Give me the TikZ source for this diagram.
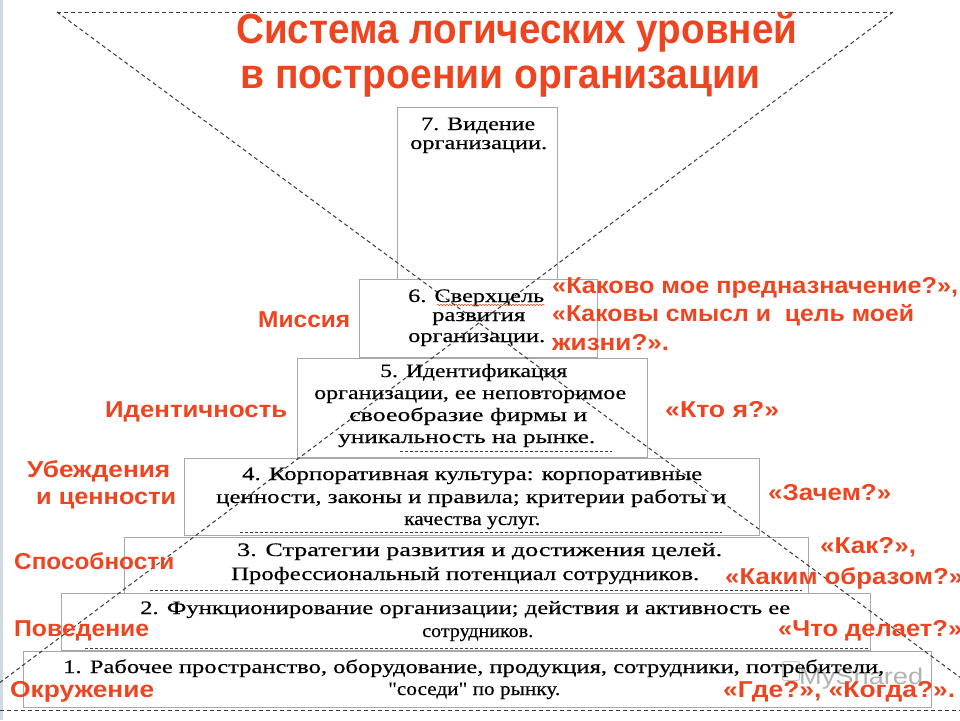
\documentclass[tikz,border=0pt]{standalone}
\usepackage{fontspec}
\usepackage{graphicx}
\setmainfont{Liberation Serif}[Ligatures=TeXOff, FakeBold=0.35]
\newfontfamily\redfont{Liberation Sans}
\usetikzlibrary{decorations.pathmorphing}
\definecolor{redc}{HTML}{EE4420}
\definecolor{boxgray}{HTML}{A8A8A8}
\definecolor{dashc}{HTML}{3A3A3A}
\definecolor{stripc}{HTML}{CFD9E0}
\newcommand\fitw[2]{\resizebox{#1pt}{\height}{#2}}
\newcommand\bline[5]{\node[btxt] (#1) at (#2,#3) {\fitw{#4}{#5}};}
\newcommand\rline[5]{\node[rtxt] (#1) at (#2,#3) {\fitw{#4}{#5}};}
\tikzset{
  lvlbox/.style={draw=boxgray, line width=1pt, fill=white, inner sep=0pt, anchor=north west},
  btxt/.style={anchor=base west, inner sep=0pt, font=\fontsize{19}{22}\selectfont},
  rtxt/.style={anchor=base west, inner sep=0pt, text=redc, font=\redfont\bfseries\fontsize{23}{26}\selectfont},
  ttxt/.style={anchor=base west, inner sep=0pt, text=redc, font=\redfont\bfseries\fontsize{42}{48}\selectfont},
  xline/.style={draw=dashc, line width=1pt, dash pattern=on 4pt off 3pt},
  bdash/.style={draw=dashc, line width=0.9pt, dash pattern=on 3pt off 2pt},
}
\begin{document}
\begin{tikzpicture}[x=1pt,y=-1pt]
\useasboundingbox (0,0) rectangle (960,720);
\clip (0,0) rectangle (960,720);
\fill[white] (0,0) rectangle (960,720);
\fill[stripc] (0,0) rectangle (3,720);

% boxes (top to bottom; lower ones drawn over)
\node[lvlbox, minimum width=160pt, minimum height=172pt] (b7) at (397,107) {};
\node[lvlbox, minimum width=238pt, minimum height=78pt] (b6) at (359,279) {};
\node[lvlbox, minimum width=350pt, minimum height=99pt] (b5) at (297,358) {};
\node[lvlbox, minimum width=575pt, minimum height=77pt] (b4) at (184,458) {};
\node[lvlbox, minimum width=684pt, minimum height=56pt] (b3) at (124,537) {};
\node[lvlbox, minimum width=809pt, minimum height=57pt] (b2) at (61,593) {};
\node[lvlbox, minimum width=908pt, minimum height=56pt] (b1) at (23,651) {};

% dashed bottoms
\draw[bdash] (400,451) -- (612,451);
\draw[bdash] (240,532) -- (722,532);
\draw[bdash] (150,590) -- (802,590);
\draw[bdash] (85,648) -- (870,648);

% big dashed X and horizontals
\coordinate (TL) at (57,12);
\coordinate (TR) at (893,12);
\coordinate (BR) at (1018,720);
\coordinate (BL) at (-50,720);
\coordinate (HL) at (0,710);
\coordinate (HR) at (960,710);
\draw[xline] (TL) -- (TR);
\draw[xline] (TL) -- (BR);
\draw[xline] (TR) -- (BL);
\draw[xline] (HL) -- (HR);

% watermark
\node[draw=gray!70, rounded corners=2pt, line width=1pt, minimum width=17pt, minimum height=19pt, inner sep=0pt, opacity=0.6, anchor=north west] (wmicon) at (782,661) {};
\node[anchor=base west, inner sep=0pt, text=gray, opacity=0.6, font=\redfont\fontsize{23}{26}\selectfont] (wm) at (799,684) {\fitw{124}{MyShared}};

% box texts
\bline{t7a}{421}{130}{114}{7. Видение}
\bline{t7b}{410}{149}{137}{организации.}
\bline{t6a}{408}{302}{136}{6. Сверхцель}
\bline{t6b}{432}{321}{93}{развития}
\bline{t6c}{408}{342}{137}{организации.}
\draw[redc, line width=0.5pt, decorate, decoration={snake, amplitude=0.8pt, segment length=3pt}] (437,305) -- (545,305);
\bline{t5a}{380}{377}{187}{5. Идентификация}
\bline{t5b}{314}{399}{312}{организации, ее неповторимое}
\bline{t5c}{349}{421}{238}{своеобразие фирмы и}
\bline{t5d}{338}{443}{257}{уникальность на рынке.}
\bline{t4a}{242}{480}{460}{4. Корпоративная культура: корпоративные}
\bline{t4b}{216}{503}{510}{ценности, законы и правила; критерии работы и}
\bline{t4c}{404}{525}{136}{качества услуг.}
\bline{t3a}{237}{556}{485}{3. Стратегии развития и достижения целей.}
\bline{t3b}{231}{580}{468}{Профессиональный потенциал сотрудников.}
\bline{t2a}{140}{614}{650}{2. Функционирование организации; действия и активность ее}
\bline{t2b}{422}{637}{111}{сотрудников.}
\bline{t1a}{63}{673}{821}{1. Рабочее пространство, оборудование, продукция, сотрудники, потребители,}
\bline{t1b}{388}{695}{172}{"соседи" по рынку.}

% title
\node[ttxt] (title1) at (236,43) {\fitw{561}{Система логических уровней}};
\node[ttxt] (title2) at (240,88) {\fitw{520}{в построении организации}};

% left labels
\rline{lmis}{258}{327}{92}{Миссия}
\rline{lid}{105}{417}{182}{Идентичность}
\rline{lub}{27}{477}{143}{Убеждения}
\rline{lcen}{36}{504}{140}{и ценности}
\rline{lsp}{14}{569}{160}{Способности}
\rline{lpov}{14}{636}{135}{Поведение}
\rline{lokr}{10}{697}{144}{Окружение}

% right labels
\rline{q1}{552}{293}{406}{«Каково мое предназначение?»,}
\rline{q2}{552}{321}{362}{«Каковы смысл и\ \ цель моей}
\rline{q3}{552}{350}{117}{жизни?».}
\rline{q4}{665}{417}{114}{«Кто я?»}
\rline{q5}{768}{500}{123}{«Зачем?»}
\rline{q6}{820}{553}{96}{«Как?»,}
\rline{q7}{725}{584}{238}{«Каким образом?»}
\rline{q8}{778}{636}{184}{«Что делает?»}
\rline{q9}{723}{697}{232}{«Где?», «Когда?».}
\end{tikzpicture}
\end{document}
